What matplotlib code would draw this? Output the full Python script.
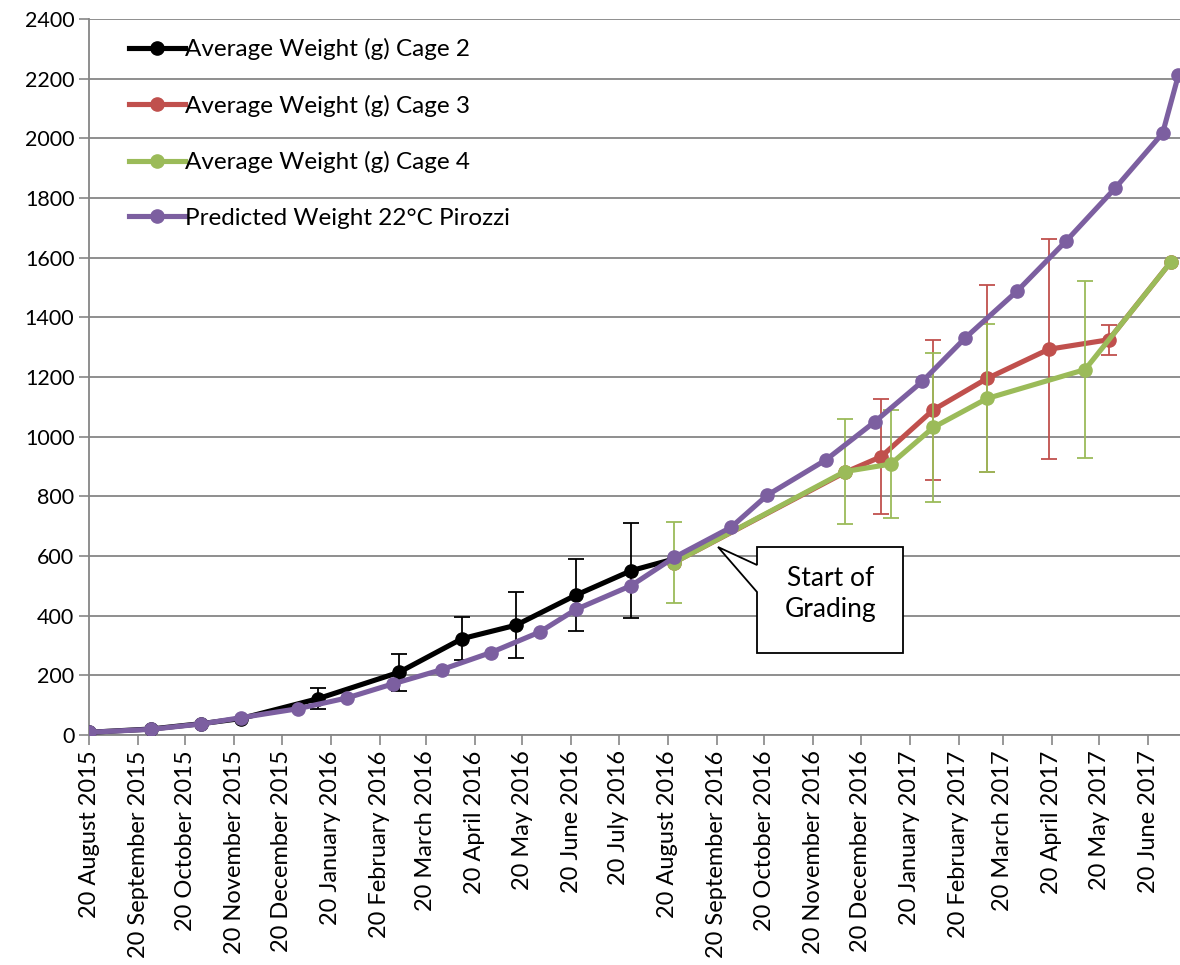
import matplotlib
matplotlib.use("Agg")
import matplotlib.pyplot as plt
import matplotlib.dates as mdates
from matplotlib.patches import Polygon
import numpy as np
import pandas as pd

plt.rcParams["font.family"] = ["Lato", "DejaVu Sans"]

# --- data ---
cage2_dates = ["2015-08-20", "2015-09-28", "2015-10-30", "2015-11-24", "2016-01-12",
               "2016-03-03", "2016-04-12", "2016-05-16", "2016-06-23", "2016-07-28",
               "2016-08-24"]
cage2_weight = [9, 20, 38, 55, 122, 210, 323, 368, 469, 551, 590]
cage2_err = [0, 0, 0, 0, 35, 62, 72, 110, 120, 160, 0]

cage3_dates = ["2016-08-24", "2016-12-10", "2017-01-02", "2017-02-04", "2017-03-10",
               "2017-04-18", "2017-05-26", "2017-07-04"]
cage3_weight = [578, 880, 933, 1090, 1195, 1293, 1325, 1584]
cage3_err = [0, 0, 192, 235, 315, 368, 50, 0]

cage4_dates = ["2016-08-24", "2016-12-10", "2017-01-08", "2017-02-04", "2017-03-10",
               "2017-05-11", "2017-07-04"]
cage4_weight = [578, 883, 908, 1031, 1128, 1225, 1584]
cage4_err = [137, 175, 180, 250, 248, 296, 0]

pred_dates = ["2015-08-20", "2015-09-28", "2015-10-30", "2015-11-24", "2015-12-30",
              "2016-01-30", "2016-02-28", "2016-03-30", "2016-04-30", "2016-05-31",
              "2016-06-23", "2016-07-28", "2016-08-24", "2016-09-29", "2016-10-22",
              "2016-11-28", "2016-12-29", "2017-01-28", "2017-02-24", "2017-03-29",
              "2017-04-29", "2017-05-30", "2017-06-29", "2017-07-09"]
pred_weight = [9, 19, 37, 58, 88, 124, 171, 219, 276, 345, 421, 501, 595, 696, 804,
               922, 1050, 1185, 1330, 1488, 1656, 1833, 2017, 2212]

# 20th of every month, August 2015 .. June 2017
tick_dates = pd.date_range("2015-08-01", "2017-06-01", freq="MS") + pd.Timedelta(days=19)

series = [
    ("Average Weight (g) Cage 2", cage2_dates, cage2_weight, cage2_err, "#000000"),
    ("Average Weight (g) Cage 3", cage3_dates, cage3_weight, cage3_err, "#C0504D"),
    ("Average Weight (g) Cage 4", cage4_dates, cage4_weight, cage4_err, "#9BBB59"),
    ("Predicted Weight 22°C Pirozzi", pred_dates, pred_weight, None, "#7C5FA0"),
]

fig = plt.figure(figsize=(11.8, 9.65), dpi=100, facecolor="white")
ax = fig.add_axes([89 / 1180, 1 - 735 / 965, 1 - 89 / 1180, (735 - 19) / 965])

for z, (label, dates, vals, err, color) in enumerate(series):
    x = pd.to_datetime(dates)
    ax.plot(x, vals, color=color, linewidth=3.7, marker="o", markersize=9.5,
            label=label, zorder=3 + z)
    if err is not None:
        err = np.array(err)
        keep = err > 0
        ax.errorbar(x[keep], np.array(vals)[keep], yerr=err[keep], fmt="none",
                    ecolor=color, elinewidth=1.3, capsize=6, capthick=1.3,
                    zorder=3 + z)

ax.set_ylim(0, 2400)
ax.set_yticks(range(0, 2401, 200))
ax.set_xlim(pd.Timestamp("2015-08-20"), pd.Timestamp("2017-07-10"))
ax.set_xticks(tick_dates)
ax.xaxis.set_major_formatter(mdates.DateFormatter("%d %B %Y"))
plt.setp(ax.get_xticklabels(), rotation=90)
ax.tick_params(axis="y", labelsize=15.5, color="#868686", length=7, width=1.2)
ax.tick_params(axis="x", labelsize=17, color="#868686", length=7, width=1.2, pad=4)

ax.grid(axis="y", color="#868686", linewidth=1.3)
ax.set_axisbelow(True)
for side in ("top", "right"):
    ax.spines[side].set_visible(False)
for side in ("left", "bottom"):
    ax.spines[side].set_color("#868686")
    ax.spines[side].set_linewidth(1.3)

ax.legend(loc="upper left", bbox_to_anchor=(0.017, 1.004), frameon=False,
          fontsize=17.5, handlelength=2.3, handletextpad=0.0, labelspacing=1.42)

# callout "Start of Grading"
px = [(757, 547), (903, 547), (903, 653), (757, 653), (757, 592), (718, 547), (757, 565)]
pts = [(a / 1180, 1 - b / 965) for a, b in px]
fig.patches.append(Polygon(pts, closed=True, transform=fig.transFigure,
                           facecolor="white", edgecolor="black", linewidth=1.3,
                           zorder=10))
fig.text(831 / 1180, 1 - 594 / 965, "Start of\nGrading", ha="center", va="center",
         fontsize=19, linespacing=1.35, zorder=11)

fig.savefig("out.png", dpi=100, facecolor="white")
